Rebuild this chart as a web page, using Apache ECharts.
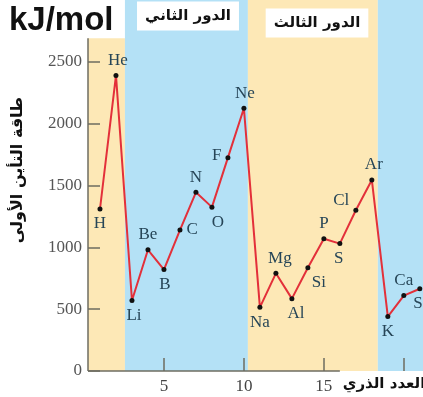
<!DOCTYPE html>
<html>
<head>
<meta charset="utf-8">
<script src="https://cdn.jsdelivr.net/npm/echarts@6/dist/echarts.min.js"></script>
<style>
  html, body { margin: 0; padding: 0; background: #ffffff; }
  #chart { width: 423px; height: 397px; }
</style>
</head>
<body>
<div id="chart"></div>
<script>
// First ionization energy (kJ/mol) of elements 1–21
const symbols = ['H','He','Li','Be','B','C','N','O','F','Ne','Na','Mg','Al','Si','P','S','Cl','Ar','K','Ca','Sc'];
const atomicNumbers = [1,2,3,4,5,6,7,8,9,10,11,12,13,14,15,16,17,18,19,20,21];
const energies = [1310,2390,570,980,820,1140,1445,1325,1725,2125,515,790,585,835,1070,1030,1300,1545,440,610,665];

const yTicks = [0,500,1000,1500,2000,2500];
const xTickLabels = [5,10,15];
const xTicks = [5,10,15,20];

// shaded period bands [from, to] on the atomic-number axis
const periodBands = [[0.25,2.56],[2.56,10.25],[10.25,18.375],[18.375,21.2]];
const bandColors = ['#fde8b6','#b4e1f6','#fde8b6','#b4e1f6'];

// where each element symbol sits relative to its point: [position, dx, dy]
const labelSpots = [
  ['bottom',0,0],['top',2,0],['bottom',2,0],['top',0,0],['bottom',1,0],
  ['right',0,0],['top',0,0],['bottom',6,0],['left',0,-2],['top',1,0],
  ['bottom',0,0],['top',4,0],['bottom',4,0],['bottom',11,0],['top',0,0],
  ['bottom',-1,0],['left',0,-10],['top',2,0],['bottom',0,0],['top',0,0],['bottom',2,0]
];

const axisColor = '#6e6c60';
const serif = '"Liberation Serif", "DejaVu Serif", serif';
const arabic = '"DejaVu Sans", "Noto Sans", sans-serif';

const points = atomicNumbers.map((z, i) => ({
  value: [z, energies[i]],
  name: symbols[i],
  label: { position: labelSpots[i][0], offset: [labelSpots[i][1], labelSpots[i][2]] }
}));

const chart = echarts.init(document.getElementById('chart'), null, { renderer: 'canvas' });
chart.setOption({
  animation: false,
  backgroundColor: '#ffffff',
  grid: { left: 88, right: 0, top: 0, bottom: 26, containLabel: false },
  xAxis: {
    type: 'value', min: 0.25, max: 21.2, z: 5,
    axisLine: { show: false },
    splitLine: { show: false },
    axisTick: { show: true, inside: true, length: 13, customValues: xTicks,
      lineStyle: { color: axisColor, width: 1.5 } },
    axisLabel: { customValues: xTickLabels, margin: 7, color: '#444', fontSize: 17, fontFamily: serif }
  },
  yAxis: {
    type: 'value', min: 0, max: 3000, z: 5,
    axisLine: { show: false },
    splitLine: { show: false },
    axisTick: { show: true, inside: true, length: 12, customValues: yTicks,
      lineStyle: { color: axisColor, width: 1.5 } },
    axisLabel: { customValues: yTicks, margin: 6, color: '#555', fontSize: 17, fontFamily: serif,
      formatter: v => String(v) }
  },
  series: [
    {
      // period background bands
      type: 'line', data: [], z: 1, silent: true,
      markArea: {
        silent: true,
        data: periodBands.map((b, i) => [
          { xAxis: b[0], yAxis: 0, itemStyle: { color: bandColors[i], opacity: 1 } },
          { xAxis: b[1], yAxis: i === 0 ? 2690 : 3000 }
        ])
      }
    },
    {
      // axis lines
      type: 'line', data: [], z: 4, silent: true,
      markLine: {
        silent: true, symbol: 'none', label: { show: false },
        lineStyle: { color: axisColor, width: 1.5, type: 'solid' },
        data: [
          [{ coord: [0.25, 0] }, { coord: [0.25, 2690] }],
          [{ coord: [0.25, 0] }, { coord: [16, 0] }]
        ]
      }
    },
    {
      type: 'line', z: 6,
      data: points,
      symbol: 'circle', symbolSize: 5,
      itemStyle: { color: '#111' },
      lineStyle: { color: '#e3303a', width: 2 },
      label: {
        show: true, formatter: p => p.name, distance: 4,
        color: '#264557', fontSize: 17, fontFamily: serif
      }
    }
  ],
  graphic: [
    { type: 'text', left: 9, top: 4, z: 10,
      style: { text: 'kJ/mol', font: 'bold 33px "Liberation Sans", Arial, sans-serif', fill: '#111' } },
    { type: 'text', x: 188, y: 16, z: 10,
      style: { text: 'الدور الثاني', font: 'bold 15px ' + arabic, fill: '#111',
        align: 'center', verticalAlign: 'middle', backgroundColor: '#fff', padding: [7, 8] } },
    { type: 'text', x: 317, y: 23, z: 10,
      style: { text: 'الدور الثالث', font: 'bold 15px ' + arabic, fill: '#111',
        align: 'center', verticalAlign: 'middle', backgroundColor: '#fff', padding: [7, 8] } },
    { type: 'text', x: 18, y: 170, rotation: Math.PI / 2, z: 10,
      style: { text: 'طاقة التأين الأولى', font: 'bold 16px ' + arabic, fill: '#111',
        align: 'center', verticalAlign: 'middle' } },
    { type: 'text', x: 384, y: 384, z: 10,
      style: { text: 'العدد الذري', font: 'bold 15px ' + arabic, fill: '#111',
        align: 'center', verticalAlign: 'middle', backgroundColor: '#fff', padding: [4, 4] } }
  ]
});
</script>
</body>
</html>
